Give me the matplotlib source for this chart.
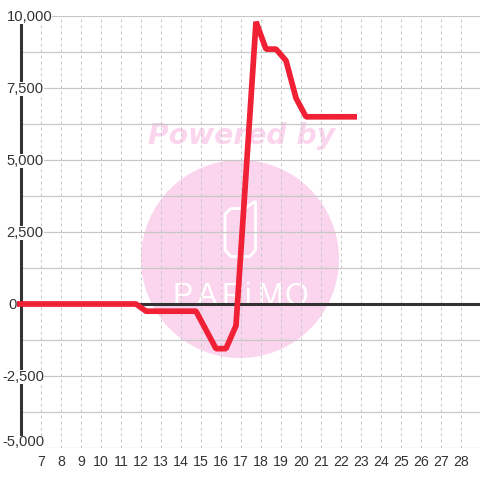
import matplotlib
matplotlib.use("Agg")
import matplotlib.pyplot as plt
from matplotlib.patches import Circle, PathPatch
from matplotlib.path import Path

days = [5.8, 11.75, 12.25, 14.75, 15.75, 16.25, 16.75, 17.75, 18.25, 18.75, 19.25, 19.75, 20.25, 22.8]
values = [0, 0, -250, -250, -1550, -1550, -750, 9800, 8850, 8850, 8450, 7150, 6500, 6500]
x_ticks = list(range(7, 29))
y_ticks = [-5000, -2500, 0, 2500, 5000, 7500, 10000]
y_labels = ["-5,000", "-2,500", "0", "2,500", "5,000", "7,500", "10,000"]
y_minor = [-3750, -1250, 1250, 3750, 6250, 8750]
label_left_px = [2.3, 2.3, 8.3, 6.7, 6.7, 6.7, 6.7]
label_shift_px = [6.5, 0, 0, 0, 0, 0, 0]
brand_letters = ["P", "A", "R", "i", "M", "O"]
brand_px = [183, 207, 233, 248, 270, 296]

GRAY = "#c8c8c8"
DARK = "#333333"
PINK = "#fbd5ee"
RED = "#f02035"

plt.rcParams["font.family"] = ["Liberation Sans", "DejaVu Sans"]
fig = plt.figure(figsize=(4.8, 4.8), dpi=100)
ax = fig.add_axes([0, 32 / 480, 1, 432 / 480])
ax.set_xlim(7 - 41 / 20, 7 + 439 / 20)
ax.set_ylim(-5000, 10000)
for s in ax.spines.values():
    s.set_visible(False)

# watermark, placed in pixels of the figure
T = fig.dpi_scale_trans
ax.add_patch(Circle((2.40, 4.80 - 2.59), 0.99, transform=T, fc=PINK, ec="none", zorder=1))
icon = [(255.5, 201), (255.5, 250), (250, 256.5), (231, 256.5), (225, 250), (225, 214), (231, 208.5), (245, 208.5), (255.5, 201)]
ax.add_patch(PathPatch(Path([(a / 100, (480 - b) / 100) for a, b in icon]), transform=T, fc="none", ec="white",
                       lw=2.0, joinstyle="round", zorder=1.1))
ax.text(241.5 / 480, 1 - 135.5 / 480, "Powered by", color=PINK, fontsize=20.3, fontweight="bold", style="italic",
        family="DejaVu Sans", ha="center", va="center", zorder=1.1, transform=fig.transFigure)
for ch, cx in zip(brand_letters, brand_px):
    ax.text(cx / 480, 1 - 305 / 480, ch, ha="center", va="baseline", fontsize=22, color="white",
            family="Liberation Sans", zorder=1.2, transform=fig.transFigure)

# grid
for y in y_ticks + y_minor:
    ax.plot([6, 29], [y, y], color=GRAY, lw=0.9, zorder=2, solid_capstyle="butt")
for x in x_ticks:
    ax.plot([x, x], [-5000, 10000], color=GRAY, lw=0.72, ls=(0, (3, 3)), zorder=2)

ax.plot([6, 6], [-5000, 10000], color=DARK, lw=2.2, zorder=3, solid_capstyle="butt")
ax.plot([6, 29], [0, 0], color=DARK, lw=2.2, zorder=4, solid_capstyle="butt")
ax.plot(days, values, color=RED, lw=4.1, zorder=5, solid_joinstyle="bevel", solid_capstyle="butt")

ax.set_xticks(x_ticks)
ax.set_xticklabels([str(x) for x in x_ticks])
ax.tick_params(axis="x", length=0, pad=5, labelsize=10.2, labelcolor=DARK)
ax.set_yticks([])
for y, lab, lx, sh in zip(y_ticks, y_labels, label_left_px, label_shift_px):
    ax.annotate(lab, xy=(0, y), xycoords=("axes fraction", "data"), xytext=(lx * 0.72, (sh - 5) * 0.72),
                textcoords="offset points", ha="left", va="baseline", fontsize=10.6, color=DARK, zorder=4.5,
                bbox=dict(fc="white", ec="none", pad=0))

fig.savefig("out.png", dpi=100, facecolor="white")
